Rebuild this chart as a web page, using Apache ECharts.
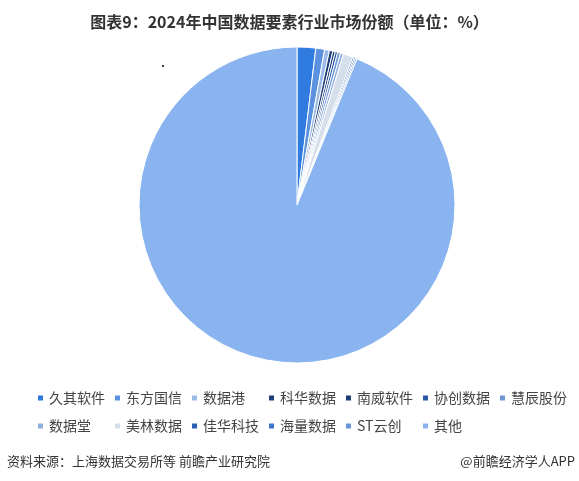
<!DOCTYPE html>
<html lang="zh">
<head>
<meta charset="utf-8">
<title>图表9</title>
<style>
html,body{margin:0;padding:0;width:100%;height:100%;background:#fff;}
#main{width:579px;height:481px;}
</style>
<script src="https://cdn.jsdelivr.net/npm/echarts@6/dist/echarts.min.js"></script>
</head>
<body>
<div id="main"></div>
<script>
// 企业名称与市场份额（%）
var companies = ['久其软件','东方国信','数据港','科华数据','南威软件','协创数据','慧辰股份',
                 '数据堂','美林数据','佳华科技','海量数据','ST云创','其他'];
var shares = [1.9, 0.9, 0.5, 0.35, 0.25, 0.25, 0.3, 0.3, 1.0, 0.15, 0.15, 0.15, 93.8];
var colors = ['#2f7be0','#5b92e0','#9dbbe8','#203f7a','#1e3c73','#2a58a6','#6f98d6',
              '#8fb0e0','#d6dee9','#2a5db5','#3d78d0','#6a95d8','#8ab4f0'];

var font = '"Noto Sans CJK SC", "Noto Sans", sans-serif';
var chart = echarts.init(document.getElementById('main'));

var pieData = [];
for (var i = 0; i < companies.length; i++) {
  pieData.push({name: companies[i], value: shares[i], itemStyle: {color: colors[i]}});
}

chart.setOption({
  animation: false,
  title: {
    text: '图表9：2024年中国数据要素行业市场份额（单位：%）',
    left: 'center',
    top: 9,
    textStyle: {fontFamily: font, fontSize: 16, fontWeight: 'bold', color: '#333'}
  },
  legend: {
    left: 31,
    top: 383,
    width: 540,
    icon: 'rect',
    itemWidth: 7,
    itemHeight: 7,
    itemGap: 8,
    textStyle: {fontFamily: font, fontSize: 14, color: '#444', width: 56, lineHeight: 20},
    data: companies
  },
  series: [{
    type: 'pie',
    center: [297, 205],
    radius: [0, 158],
    startAngle: 90,
    clockwise: true,
    label: {show: false},
    labelLine: {show: false},
    emphasis: {disabled: true},
    itemStyle: {borderColor: '#fff', borderWidth: 1},
    data: pieData
  }],
  graphic: [
    {type: 'text', left: 7, top: 455,
     style: {text: '资料来源：上海数据交易所等 前瞻产业研究院', font: '13px ' + font, fill: '#333'}},
    {type: 'text', right: 4, top: 455,
     style: {text: '@前瞻经济学人APP', font: '13px ' + font, fill: '#333'}},
    {type: 'circle', shape: {cx: 163, cy: 66, r: 1}, style: {fill: '#000'}}
  ]
});
</script>
</body>
</html>
